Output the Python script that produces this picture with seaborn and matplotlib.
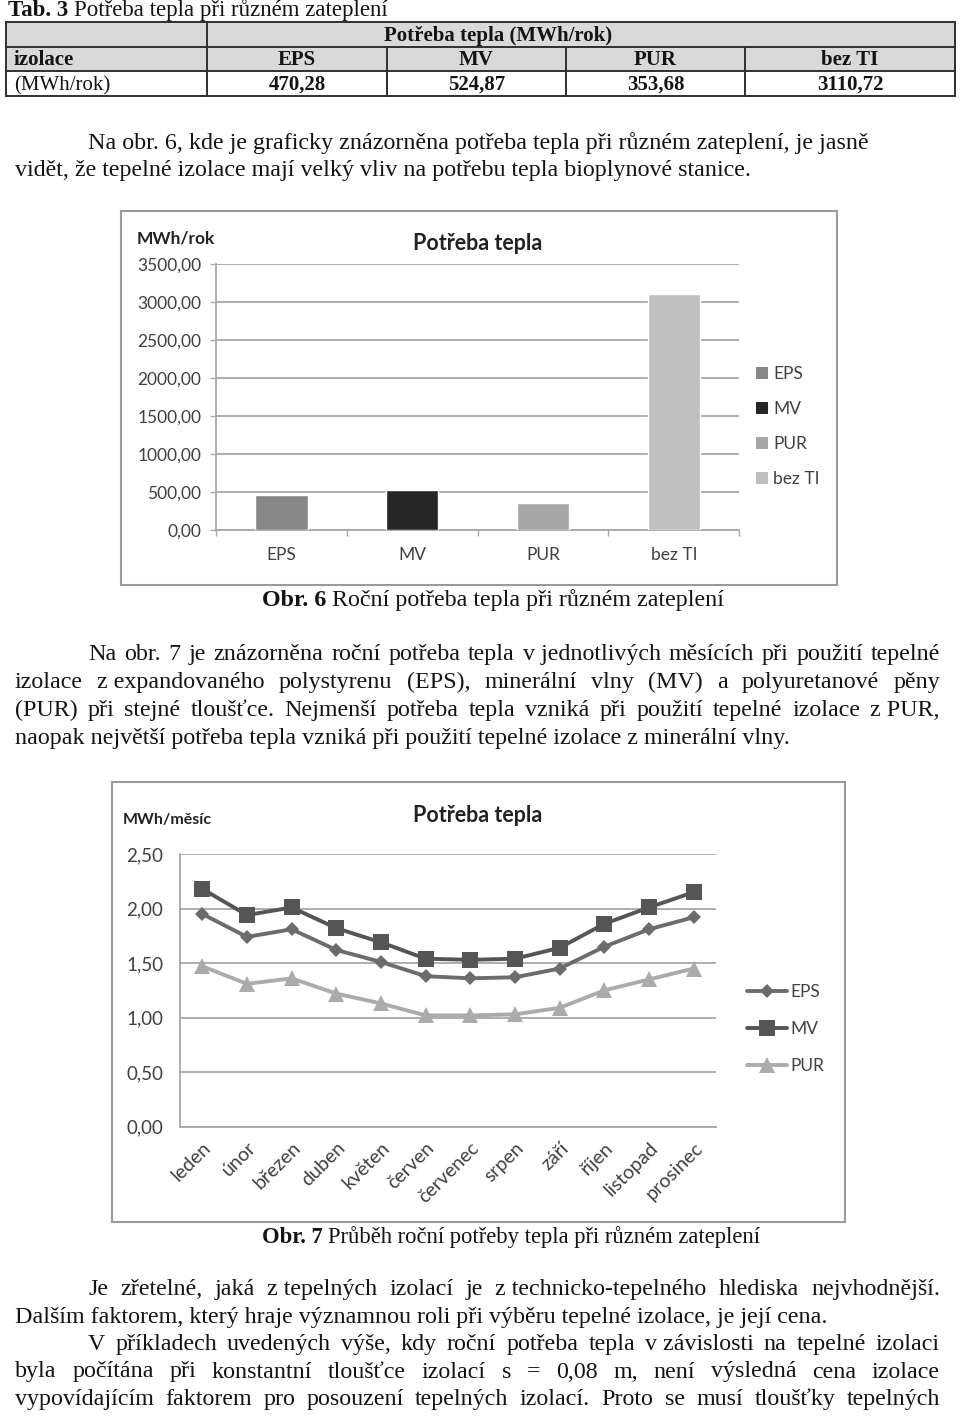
import numpy as np
import pandas as pd
import matplotlib
matplotlib.use("Agg")
import matplotlib.pyplot as plt
import seaborn as sns
import matplotlib.transforms as mtransforms
from matplotlib.patches import Rectangle, Patch
from matplotlib.lines import Line2D
from matplotlib.ticker import FuncFormatter

# ---------------- data ----------------
bar_categories = ["EPS", "MV", "PUR", "bez TI"]
bar_values = [470.28, 524.87, 353.68, 3110.72]
bar_colors = ["#878787", "#262626", "#a6a6a6", "#bfbfbf"]
bar_yticks = [0, 500, 1000, 1500, 2000, 2500, 3000, 3500]

months = ["leden", "únor", "březen", "duben", "květen", "červen", "červenec",
          "srpen", "září", "říjen", "listopad", "prosinec"]
eps_values = [1.95, 1.74, 1.81, 1.62, 1.51, 1.38, 1.36, 1.37, 1.45, 1.65, 1.81, 1.92]
mv_values = [2.18, 1.94, 2.01, 1.82, 1.69, 1.54, 1.53, 1.54, 1.64, 1.86, 2.01, 2.15]
pur_values = [1.47, 1.31, 1.36, 1.22, 1.13, 1.02, 1.02, 1.03, 1.09, 1.25, 1.35, 1.45]
line_series = ["EPS", "MV", "PUR"]
line_yticks = [0.0, 0.5, 1.0, 1.5, 2.0, 2.5]

# ---------------- style ----------------
sns.set_style("white")
CHART_FONT = ["Lato", "DejaVu Sans"]
SERIF = ["Liberation Serif", "DejaVu Serif"]
plt.rcParams["font.family"] = CHART_FONT
TEXT_C = "#141414"
LABEL_C = "#404040"
GRID_C = "#a8a8a8"
FRAME_C = "#9a9a9a"

W, H = 960, 1418
fig = plt.figure(figsize=(W / 100, H / 100), dpi=100)
fig.patch.set_facecolor("white")
px = mtransforms.Affine2D().scale(1 / W, -1 / H).translate(0, 1) + fig.transFigure
renderer = fig.canvas.get_renderer()


def width_of(a):
    return a.get_window_extent(renderer=renderer).width


def axes_px(x0, y0, x1, y1):
    return fig.add_axes([x0 / W, 1 - y1 / H, (x1 - x0) / W, (y1 - y0) / H])


BODY = 17.3


def rich(parts, x, y, size=BODY, ha="left"):
    arts = [fig.text(0, y, s, transform=px, family=SERIF, weight=w, size=size,
                     va="baseline", color=TEXT_C) for s, w in parts]
    widths = [width_of(a) for a in arts]
    space = size * 100 / 72 * 0.25
    total = sum(widths) + space * (len(arts) - 1)
    x0 = x if ha == "left" else x - total / 2
    for a, w in zip(arts, widths):
        a.set_x(x0)
        x0 += w + space


def line(s, x0, y, x1=None, size=BODY):
    if x1 is None:
        fig.text(x0, y, s, transform=px, family=SERIF, size=size, va="baseline", color=TEXT_C)
        return
    words = s.split(" ")
    arts = [fig.text(0, y, w, transform=px, family=SERIF, size=size, va="baseline",
                     color=TEXT_C) for w in words]
    widths = [width_of(a) for a in arts]
    gap = (x1 - x0 - sum(widths)) / (len(words) - 1)
    x = x0
    for a, w in zip(arts, widths):
        a.set_x(x)
        x += w + gap


def fmt_comma(v, pos=None):
    return f"{v:.2f}".replace(".", ",")


# ---------------- table ----------------
rich([("Tab. 3", "bold"), ("Potřeba tepla při různém zateplení", "normal")], 8, 16, size=16.5)
fig.add_artist(Rectangle((6, 22), 949, 49, transform=px, facecolor="#d9d9d9", edgecolor="none"))
for yy in [22, 47, 71, 96]:
    fig.add_artist(Line2D([6, 955], [yy, yy], transform=px, color="#303030", lw=1.4))
for xx in [6, 207, 955]:
    fig.add_artist(Line2D([xx, xx], [22, 96], transform=px, color="#303030", lw=1.4))
for xx in [387, 566, 745]:
    fig.add_artist(Line2D([xx, xx], [47, 96], transform=px, color="#303030", lw=1.4))
TS = 15
fig.text(498, 41, "Potřeba tepla (MWh/rok)", transform=px, family=SERIF, weight="bold",
         size=TS, ha="center", va="baseline", color=TEXT_C)
fig.text(14, 65, "izolace", transform=px, family=SERIF, weight="bold", size=TS,
         va="baseline", color=TEXT_C)
fig.text(14, 90, "(MWh/rok)", transform=px, family=SERIF, size=TS, va="baseline", color=TEXT_C)
col_centers = [297, 476.5, 655.5, 850]
for cx, name, val in zip(col_centers, bar_categories, bar_values):
    fig.text(cx, 65, name, transform=px, family=SERIF, weight="bold", size=TS,
             ha="center", va="baseline", color=TEXT_C)
    fig.text(cx, 90, fmt_comma(val), transform=px, family=SERIF, weight="bold", size=TS,
             ha="center", va="baseline", color=TEXT_C)

# ---------------- paragraph 1 ----------------
line("Na obr. 6, kde je graficky znázorněna potřeba tepla při různém zateplení, je jasně", 88, 149)
line("vidět, že tepelné izolace mají velký vliv na potřebu tepla bioplynové stanice.", 15, 176)

# ---------------- chart 1 ----------------
fig.add_artist(Rectangle((121, 211), 716, 374, transform=px, fill=False, edgecolor=FRAME_C, lw=1.5))
ax1 = axes_px(216, 264.3, 739.3, 530.3)
df_bar = pd.DataFrame({"izolace": bar_categories, "hodnota": bar_values})
sns.barplot(data=df_bar, x="izolace", y="hodnota", hue="izolace", palette=bar_colors,
            width=0.4, saturation=1, legend=False, ax=ax1, zorder=3)
ax1.set_xlim(-0.5, 3.5)
ax1.set_ylim(0, 3500)
ax1.set_yticks(bar_yticks)
ax1.yaxis.set_major_formatter(FuncFormatter(fmt_comma))
ax1.set_xlabel("")
ax1.set_ylabel("")
ax1.set_axisbelow(True)
ax1.yaxis.grid(True, color=GRID_C, lw=1.3)
for s in ["top", "right"]:
    ax1.spines[s].set_visible(False)
for s in ["left", "bottom"]:
    ax1.spines[s].set_color(GRID_C)
    ax1.spines[s].set_linewidth(1.3)
ax1.tick_params(axis="y", length=4.5, width=1, color=GRID_C, labelcolor=LABEL_C,
                labelsize=12.5, pad=6, left=True)
ax1.tick_params(axis="x", which="major", length=0, labelcolor=LABEL_C, labelsize=12.5, pad=12)
ax1.set_xticks([-0.5, 0.5, 1.5, 2.5, 3.5], minor=True)
ax1.tick_params(axis="x", which="minor", length=4.5, width=1, color=GRID_C, bottom=True)
fig.text(478, 243, "Potřeba tepla", transform=px, weight="bold", size=15.5, ha="center",
         va="center", color="#222222")
fig.text(137, 238, "MWh/rok", transform=px, weight="bold", size=12.5, ha="left",
         va="center", color="#222222")
handles1 = [Patch(facecolor=c, edgecolor="none") for c in bar_colors]
ax1.legend(handles1, bar_categories, loc="upper left", bbox_to_anchor=(756 / W, 1 - 366 / H),
           bbox_transform=fig.transFigure, frameon=False, fontsize=12.5, handlelength=0.7,
           handleheight=0.7, handletextpad=0.3, labelspacing=1.1, borderpad=0,
           borderaxespad=0, labelcolor=LABEL_C)

rich([("Obr. 6", "bold"), ("Roční potřeba tepla při různém zateplení", "normal")], 262, 606)

# ---------------- paragraph 2 ----------------
line("Na obr. 7 je znázorněna roční potřeba tepla v\u00a0jednotlivých měsících při použití tepelné", 88, 660, 940)
line("izolace z\u00a0expandovaného polystyrenu (EPS), minerální vlny (MV) a polyuretanové pěny", 15, 688, 940)
line("(PUR) při stejné tloušťce. Nejmenší potřeba tepla vzniká při použití tepelné izolace z\u00a0PUR,", 15, 716, 940)
line("naopak největší potřeba tepla vzniká při použití tepelné izolace z\u00a0minerální vlny.", 15, 744)

# ---------------- chart 2 ----------------
fig.add_artist(Rectangle((112, 782), 733, 440, transform=px, fill=False, edgecolor=FRAME_C, lw=1.5))
ax2 = axes_px(180, 854, 716, 1126.7)
series_values = {"EPS": eps_values, "MV": mv_values, "PUR": pur_values}
series_style = {"EPS": ("#6c6c6c", "D", 7.5), "MV": ("#555555", "s", 11), "PUR": ("#ababab", "^", 11.5)}
for name in line_series:
    col, mk, ms = series_style[name]
    sns.lineplot(x=months, y=series_values[name], ax=ax2, color=col, marker=mk, markersize=ms,
                 markeredgewidth=0, linewidth=2.8, label=name, sort=False, zorder=3)
ax2.set_xlim(-0.5, 11.5)
ax2.set_ylim(0, 2.5)
ax2.set_yticks(line_yticks)
ax2.yaxis.set_major_formatter(FuncFormatter(fmt_comma))
ax2.set_xticks(range(len(months)))
ax2.set_xticklabels(months, rotation=45, ha="right", rotation_mode="anchor")
ax2.set_xlabel("")
ax2.set_ylabel("")
ax2.set_axisbelow(True)
ax2.yaxis.grid(True, color=GRID_C, lw=1.3)
for s in ["top", "right"]:
    ax2.spines[s].set_visible(False)
for s in ["left", "bottom"]:
    ax2.spines[s].set_color(GRID_C)
    ax2.spines[s].set_linewidth(1.3)
ax2.tick_params(axis="y", length=0, labelcolor=LABEL_C, labelsize=13.5, pad=12)
ax2.tick_params(axis="x", length=0, labelcolor=LABEL_C, labelsize=14, pad=9)
fig.text(478, 815, "Potřeba tepla", transform=px, weight="bold", size=15.5, ha="center",
         va="center", color="#222222")
fig.text(123, 820, "MWh/měsíc", transform=px, weight="bold", size=11.5, ha="left",
         va="center", color="#222222")
ax2.legend(loc="upper left", bbox_to_anchor=(747 / W, 1 - 984 / H), bbox_transform=fig.transFigure,
           frameon=False, fontsize=12.5, handlelength=2.3, handletextpad=0.2, labelspacing=1.2,
           borderpad=0, borderaxespad=0, labelcolor=LABEL_C)

rich([("Obr. 7", "bold"), ("Průběh roční potřeby tepla při různém zateplení", "normal")], 262, 1243, size=16.3)

# ---------------- paragraph 3 ----------------
line("Je zřetelné, jaká z\u00a0tepelných izolací je z\u00a0technicko-tepelného hlediska nejvhodnější.", 88, 1295, 940)
line("Dalším faktorem, který hraje významnou roli při výběru tepelné izolace, je její cena.", 15, 1322.5)
line("V příkladech uvedených výše, kdy roční potřeba tepla v\u00a0závislosti na tepelné izolaci", 88, 1350, 940)
line("byla počítána při konstantní tloušťce izolací s = 0,08 m, není výsledná cena izolace", 15, 1377.5, 940)
line("vypovídajícím faktorem pro posouzení tepelných izolací. Proto se musí tloušťky tepelných", 15, 1405, 940)

fig.savefig("out.png", dpi=100, facecolor="white")
